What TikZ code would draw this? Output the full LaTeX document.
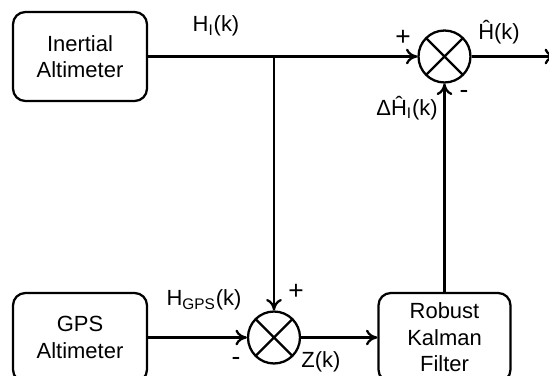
\documentclass[tikz,border=0pt]{standalone}
\usepackage{fontspec}
\setmainfont{Liberation Sans}
\usetikzlibrary{calc, arrows.meta}

\begin{document}
\begin{tikzpicture}[x=0.02cm, y=-0.02cm, line width=1.3pt, font=\fontsize{12.5}{15}\selectfont,
    >={To[length=6.5pt, width=9pt]},
    blockbox/.style={draw, rounded corners=7pt, minimum width=2.68cm, minimum height=1.78cm, align=center, inner sep=0pt},
    sumnode/.style={draw, circle, minimum size=1.04cm, inner sep=0pt,
        path picture={\draw (path picture bounding box.north west) -- (path picture bounding box.south east)
                            (path picture bounding box.north east) -- (path picture bounding box.south west);}},
    signlabel/.style={font=\fontsize{15}{15}\selectfont}]
                \useasboundingbox (0,0) rectangle (549,376);
                \node[blockbox] (inertial) at (80,56.5) {Inertial\\Altimeter};
                \node[blockbox] (gps) at (80,337.5) {GPS\\Altimeter};
                \node[blockbox, minimum width=2.64cm] (kalman) at (444.5,337.5) {Robust\\Kalman\\Filter};
                \node[sumnode] (sumtop) at (444.5,56.5) {};
                \node[sumnode] (sumbot) at (274,337.5) {};
                \coordinate (branch) at (274,56.5);
                \coordinate (out) at (556,56.5);
                \draw[->] (inertial) -- (sumtop);
                \draw[->] (branch) -- (sumbot);
                \draw[->] (sumtop) -- (out);
                \draw[->] (kalman) -- (sumtop);
                \draw[->] (gps) -- (sumbot);
                \draw[->] (sumbot) -- (kalman);
                \node (hi) at (216,26) {H\textsubscript{I}(k)};
                \node[signlabel] (plustop) at (403,38) {+};
                \node (hhat) at (499,32) {Ĥ(k)};
                \node (dhi) at (407,108) {ΔĤ\textsubscript{I}(k)};
                \node[signlabel] (minustop) at (464,94) {-};
                \node (hgps) at (204,300) {H\textsubscript{GPS}(k)};
                \node[signlabel] (plusbot) at (296,292) {+};
                \node[signlabel] (minusbot) at (236,361) {-};
                \node (zk) at (321,362) {Z(k)};
            \end{tikzpicture}
\end{document}
